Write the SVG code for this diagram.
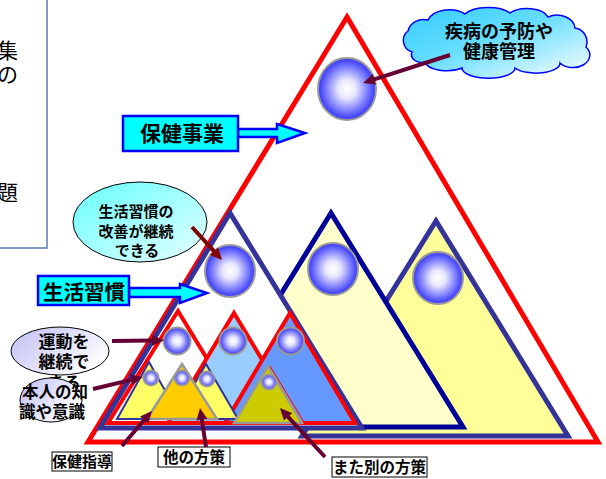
<svg xmlns="http://www.w3.org/2000/svg" width="606" height="479" viewBox="0 0 606 479">
  <defs>
    <radialGradient id="ball" cx="50%" cy="50%" r="50%">
      <stop offset="0" stop-color="#FFFFFF"/>
      <stop offset="0.3" stop-color="#E8E8FF"/>
      <stop offset="1" stop-color="#3333FF"/>
    </radialGradient>
    <linearGradient id="cloudFill" x1="0" y1="0" x2="1" y2="1">
      <stop offset="0" stop-color="#33CCFF"/>
      <stop offset="0.45" stop-color="#66DDFF"/>
      <stop offset="1" stop-color="#FFFFFF"/>
    </linearGradient>
    <linearGradient id="aquaFill" x1="0" y1="0" x2="1" y2="1">
      <stop offset="0" stop-color="#66FFFF"/>
      <stop offset="1" stop-color="#E6FFFF"/>
    </linearGradient>
    <linearGradient id="lilacFill" x1="0" y1="0" x2="1" y2="0.6">
      <stop offset="0" stop-color="#BDBDF5"/>
      <stop offset="1" stop-color="#FFFFFF"/>
    </linearGradient>
    <marker id="headM" viewBox="0 0 12 11" refX="1" refY="5.5" markerWidth="12" markerHeight="11" markerUnits="userSpaceOnUse" orient="auto">
      <path d="M0,0 L12,5.5 L0,11 z" fill="#660033"/>
    </marker>
    <marker id="headR" viewBox="0 0 12 11" refX="1" refY="5.5" markerWidth="12" markerHeight="11" markerUnits="userSpaceOnUse" orient="auto">
      <path d="M0,0 L12,5.5 L0,11 z" fill="#800000"/>
    </marker>
  </defs>
  <style>
    .jp { font-family: "Noto Sans CJK JP", "Noto Sans CJK SC", sans-serif; fill: #000000; }
    .b { font-weight: bold; }
    .ball { fill: url(#ball); stroke: #999999; stroke-width: 2; }
    .tagbox { fill: #00FFFF; stroke: #0000FF; stroke-width: 2.5; }
    .label { fill: #FFFFFF; stroke: #000000; stroke-width: 1; }
    .lnk { fill: none; stroke: #660033; stroke-width: 4; marker-end: url(#headM); }
    .tri { stroke-linejoin: miter; }
  </style>

  <rect x="0" y="0" width="606" height="479" fill="#FFFFFF"/>

  <!-- left text panel, mostly outside the frame -->
  <g id="side-panel">
    <rect x="-20" y="-20" width="67" height="268" fill="#FFFFFF" stroke="#5A7BAA" stroke-width="1.5"/>
    <text class="jp" x="18" y="58" font-size="21" text-anchor="end">集</text>
    <text class="jp" x="18" y="82" font-size="21" text-anchor="end">の</text>
    <text class="jp" x="18" y="200" font-size="21" text-anchor="end">題</text>
  </g>

  <!-- outer mountain -->
  <g id="outer-mountain">
    <polygon class="tri" points="347,17 598,442 88,442" fill="#FFFFFF" stroke="#FF0000" stroke-width="5"/>
    <ellipse class="ball" cx="347" cy="89" rx="29" ry="31"/>
  </g>

  <!-- middle mountains -->
  <g id="mountain-3">
    <polygon class="tri" points="436,221 568,436 302,436" fill="#FFFF99" stroke="#333399" stroke-width="5"/>
    <ellipse class="ball" cx="438" cy="278" rx="25" ry="26"/>
  </g>
  <g id="mountain-2">
    <polygon class="tri" points="331,213 463,427 199,427" fill="#FFFFCC" stroke="#000099" stroke-width="5"/>
    <ellipse class="ball" cx="333" cy="269" rx="25" ry="26"/>
  </g>
  <g id="mountain-1">
    <polygon class="tri" points="230,213 362,428 100,428" fill="#FFFFFF" stroke="#333399" stroke-width="5"/>
    <ellipse class="ball" cx="230" cy="271" rx="25" ry="26"/>
  </g>

  <!-- small red mountains -->
  <g id="hill-a">
    <polygon class="tri" points="178,311 246,423 108,423" fill="#FFFFFF" stroke="#FF0000" stroke-width="4"/>
    <circle class="ball" cx="177" cy="341" r="13.5"/>
  </g>
  <g id="hill-b">
    <polygon class="tri" points="234,313 300,423 168,423" fill="#99CCFF" stroke="#FF0000" stroke-width="4"/>
    <circle class="ball" cx="233" cy="341" r="13.5"/>
  </g>
  <g id="hill-c">
    <polygon class="tri" points="290,313 355,423 225,423" fill="#6699FF" stroke="#FF0000" stroke-width="4"/>
    <circle class="ball" cx="290.5" cy="341" r="13.5"/>
  </g>

  <!-- smallest mountains -->
  <g id="peak-1">
    <polygon class="tri" points="149,362 181,419 117,419" fill="#FFFF66" stroke="#333399" stroke-width="2"/>
    <circle class="ball" cx="151" cy="378" r="7.5"/>
  </g>
  <g id="peak-2">
    <polygon class="tri" points="206,364 238,419 174,419" fill="#FFFF66" stroke="#333399" stroke-width="2"/>
    <circle class="ball" cx="207" cy="379" r="7.5"/>
  </g>
  <g id="peak-orange">
    <polygon class="tri" points="182,364 217,419 147,419" fill="#FFCC00" stroke="#999999" stroke-width="2.5"/>
    <circle class="ball" cx="182" cy="378" r="7.5"/>
  </g>
  <g id="peak-olive">
    <polygon class="tri" points="268,366 302,423 234,423" fill="#CCCC00" stroke="#999999" stroke-width="2.5"/>
    <line x1="270" y1="366" x2="304" y2="422" stroke="#FF0000" stroke-width="1"/>
    <circle class="ball" cx="269" cy="382" r="7.5"/>
  </g>

  <!-- tagged block arrows -->
  <g id="tag-hoken-jigyo">
    <polygon class="tagbox" points="238,129 277,129 277,124 305,133 277,143 277,137 238,137"/>
    <rect class="tagbox" x="123" y="116" width="115" height="35"/>
    <text class="jp b" x="182" y="141" font-size="21" text-anchor="middle">保健事業</text>
  </g>
  <g id="tag-seikatsu">
    <polygon class="tagbox" points="129,288 180,288 180,284 207,293 180,303 180,297 129,297"/>
    <rect class="tagbox" x="38" y="276" width="91" height="29"/>
    <text class="jp b" x="84" y="300" font-size="20.5" text-anchor="middle">生活習慣</text>
  </g>

  <!-- cloud callout -->
  <g id="cloud-yobou">
    <path d="M412,52 A12,12 0 0 1 408,31 A16,14 0 0 1 428,20 A22,14 0 0 1 465,14 A26,12 0 0 1 510,13 A22,12 0 0 1 548,17 A18,14 0 0 1 575,28 A14,14 0 0 1 586,47 A16,12 0 0 1 560,63 A24,10 0 0 1 515,68 A26,10 0 0 1 462,68 A22,10 0 0 1 425,62 A10,8 0 0 1 412,52 Z" fill="url(#cloudFill)" stroke="#0000FF" stroke-width="1.5"/>
    <text class="jp b" x="499" y="38" font-size="18" text-anchor="middle">疾病の予防や</text>
    <text class="jp b" x="499" y="58" font-size="18" text-anchor="middle">健康管理</text>
  </g>

  <!-- oval callouts -->
  <g id="oval-kaizen">
    <ellipse cx="140" cy="222" rx="67" ry="40" fill="url(#aquaFill)" stroke="#000000" stroke-width="1"/>
    <text class="jp b" x="136" y="217" font-size="15" text-anchor="middle">生活習慣の</text>
    <text class="jp b" x="136" y="237" font-size="15" text-anchor="middle">改善が継続</text>
    <text class="jp b" x="137" y="256" font-size="15" text-anchor="middle">できる</text>
  </g>
  <g id="oval-undou">
    <ellipse cx="60" cy="351" rx="49" ry="24" fill="url(#lilacFill)" stroke="#000000" stroke-width="1"/>
    <text class="jp b" x="64" y="348" font-size="17" text-anchor="middle">運動を</text>
    <text class="jp b" x="64" y="368" font-size="17" text-anchor="middle">継続で</text>
    <text class="jp b" x="64" y="389" font-size="17" text-anchor="middle">きる</text>
  </g>
  <g id="oval-ishiki">
    <ellipse cx="51" cy="400" rx="31" ry="22" fill="url(#lilacFill)" stroke="#000000" stroke-width="1"/>
    <text class="jp b" x="55" y="398" font-size="16.5" text-anchor="middle">本人の知</text>
    <text class="jp b" x="52" y="418" font-size="16.5" text-anchor="middle">識や意識</text>
  </g>

  <!-- boxed labels -->
  <g id="label-shidou">
    <rect class="label" x="52" y="452" width="60" height="19"/>
    <text class="jp b" x="82" y="467" font-size="15" text-anchor="middle">保健指導</text>
  </g>
  <g id="label-hoka">
    <rect class="label" x="158" y="447" width="72" height="20"/>
    <text class="jp b" x="194" y="463" font-size="15.5" text-anchor="middle">他の方策</text>
  </g>
  <g id="label-betsu">
    <rect class="label" x="332" y="457" width="95" height="20"/>
    <text class="jp b" x="379.5" y="473" font-size="15.5" text-anchor="middle">また別の方策</text>
  </g>

  <!-- pointer arrows -->
  <g id="connectors">
    <line class="lnk" x1="450" y1="55" x2="373.5" y2="79.6"/>
    <line x1="192" y1="227" x2="214.6" y2="251.9" stroke="#800000" stroke-width="4" marker-end="url(#headR)"/>
    <line class="lnk" x1="112" y1="341" x2="153" y2="340.5"/>
    <line class="lnk" x1="93" y1="389" x2="132.3" y2="379.6"/>
    <line class="lnk" x1="122" y1="446" x2="144.8" y2="419.3"/>
    <line class="lnk" x1="206" y1="447" x2="201.7" y2="418.9"/>
    <line class="lnk" x1="325" y1="457" x2="287.4" y2="416.1"/>
  </g>
</svg>
